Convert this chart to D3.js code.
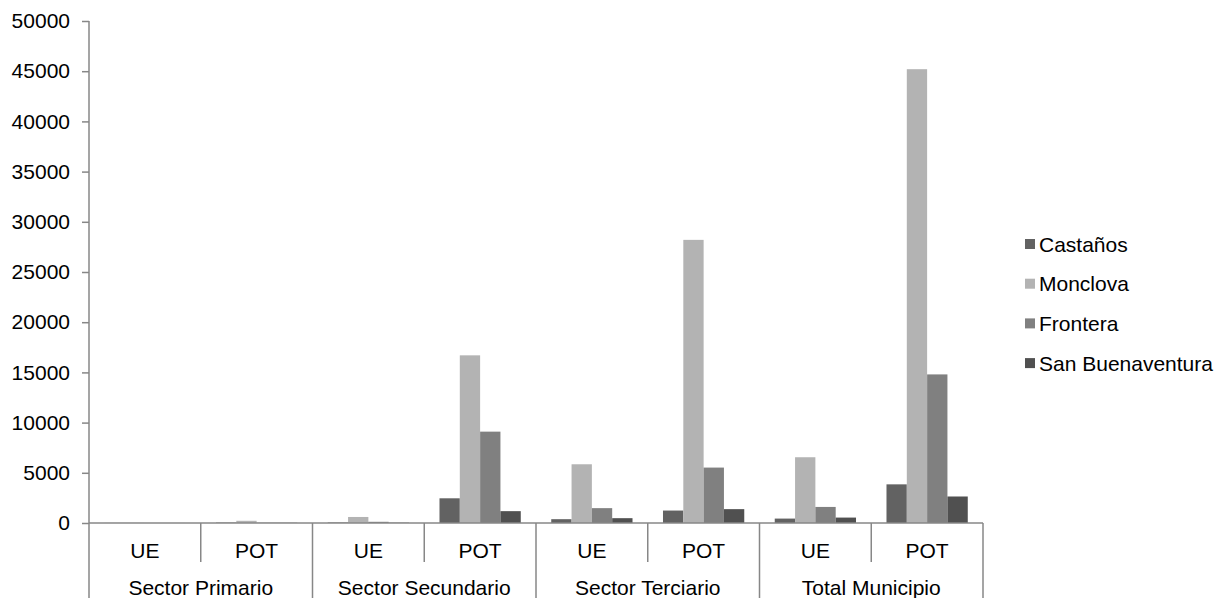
<!DOCTYPE html>
<html>
<head>
<meta charset="utf-8">
<script src="https://cdn.jsdelivr.net/npm/d3@7"></script>
<style>
  html, body { margin: 0; padding: 0; background: #fff; }
  svg { display: block; font-family: "Liberation Sans", Arial, sans-serif; }
</style>
</head>
<body>
<svg id="chart" width="1217" height="598"></svg>
<script>
// Sector groups and their sub-categories (UE = unidades económicas, POT = personal ocupado total)
const groups = ["Sector Primario", "Sector Secundario", "Sector Terciario", "Total Municipio"];
const subCategories = ["UE", "POT"];
const seriesNames = ["Castaños", "Monclova", "Frontera", "San Buenaventura"];
const seriesColors = ["#626262", "#b3b3b3", "#808080", "#505050"];

// Values per series, in order: Primario UE, Primario POT, Secundario UE, Secundario POT,
// Terciario UE, Terciario POT, Total UE, Total POT
const castanos        = [5, 40, 50, 2460, 380, 1240, 440, 3850];
const monclova        = [10, 220, 600, 16700, 5850, 28200, 6550, 45200];
const frontera        = [5, 30, 120, 9100, 1480, 5520, 1600, 14800];
const sanBuenaventura = [3, 20, 30, 1180, 480, 1380, 540, 2640];

const yTicks = [0, 5000, 10000, 15000, 20000, 25000, 30000, 35000, 40000, 45000, 50000];

const seriesValues = [castanos, monclova, frontera, sanBuenaventura];

// Flattened category list (group × sub-category)
const categories = [];
groups.forEach(g => subCategories.forEach(s => categories.push({ group: g, sub: s, key: g + "|" + s })));

const svg = d3.select("#chart");
const plotLeft = 89, plotRight = 983, plotTop = 21, plotBottom = 523;
const axisColor = "#878787";
const fontSize = 21;

const x = d3.scaleBand().domain(categories.map(c => c.key)).range([plotLeft, plotRight]).paddingInner(0).paddingOuter(0);
const xs = d3.scaleBand().domain(seriesNames).range([0, x.bandwidth()]).paddingInner(0).paddingOuter(0.75);
const y = d3.scaleLinear().domain([0, 50000]).range([plotBottom, plotTop]);

// Bars
const barGroups = svg.append("g").selectAll("g")
  .data(categories)
  .join("g")
  .attr("transform", c => `translate(${x(c.key)},0)`);

barGroups.selectAll("rect")
  .data((c, i) => seriesNames.map((name, si) => ({ name, si, value: seriesValues[si][i] })))
  .join("rect")
  .attr("x", d => xs(d.name))
  .attr("width", xs.bandwidth())
  .attr("y", d => y(d.value))
  .attr("height", d => plotBottom - y(d.value))
  .attr("fill", d => seriesColors[d.si]);

// Y axis
const yAxis = d3.axisLeft(y).tickValues(yTicks).tickSize(7).tickPadding(12).tickFormat(d3.format("d"));
const yg = svg.append("g").attr("transform", `translate(${plotLeft},0)`).call(yAxis);
yg.select(".domain").remove();
yg.selectAll(".tick line").attr("stroke", axisColor).attr("stroke-width", 1.5);
yg.selectAll(".tick text").attr("font-size", fontSize).attr("fill", "#000")
  .attr("font-family", "'Liberation Sans', Arial, sans-serif");
svg.append("line").attr("x1", plotLeft).attr("x2", plotLeft).attr("y1", plotTop).attr("y2", 598)
  .attr("stroke", axisColor).attr("stroke-width", 1.5);

// X baseline
svg.append("line").attr("x1", plotLeft).attr("x2", plotRight).attr("y1", plotBottom).attr("y2", plotBottom)
  .attr("stroke", axisColor).attr("stroke-width", 1.5);

// Category separators: short between sub-categories, full height between groups
const boundaries = categories.map(c => x(c.key)).concat([plotRight]);
boundaries.forEach((bx, i) => {
  if (i === 0) return;
  const isGroupEdge = i % subCategories.length === 0;
  svg.append("line").attr("x1", bx).attr("x2", bx).attr("y1", plotBottom)
    .attr("y2", isGroupEdge ? 598 : 562)
    .attr("stroke", axisColor).attr("stroke-width", 1.5);
});

// Sub-category labels
svg.append("g").selectAll("text")
  .data(categories)
  .join("text")
  .attr("x", c => x(c.key) + x.bandwidth() / 2)
  .attr("y", 550)
  .attr("text-anchor", "middle")
  .attr("dominant-baseline", "central")
  .attr("font-size", fontSize)
  .attr("fill", "#000")
  .text(c => c.sub);

// Group labels
svg.append("g").selectAll("text")
  .data(groups)
  .join("text")
  .attr("x", g => x(g + "|" + subCategories[0]) + x.bandwidth() * subCategories.length / 2)
  .attr("y", 587)
  .attr("text-anchor", "middle")
  .attr("dominant-baseline", "central")
  .attr("font-size", fontSize)
  .attr("fill", "#000")
  .text(g => g);

// Legend
const legend = svg.append("g").selectAll("g")
  .data(seriesNames)
  .join("g")
  .attr("transform", (d, i) => `translate(1025,${244 + i * 39.7})`);
legend.append("rect").attr("x", 0).attr("y", -5).attr("width", 10).attr("height", 10)
  .attr("fill", (d, i) => seriesColors[i]);
legend.append("text").attr("x", 14).attr("y", 0)
  .attr("dominant-baseline", "central")
  .attr("font-size", fontSize)
  .attr("fill", "#000")
  .text(d => d);
</script>
</body>
</html>
